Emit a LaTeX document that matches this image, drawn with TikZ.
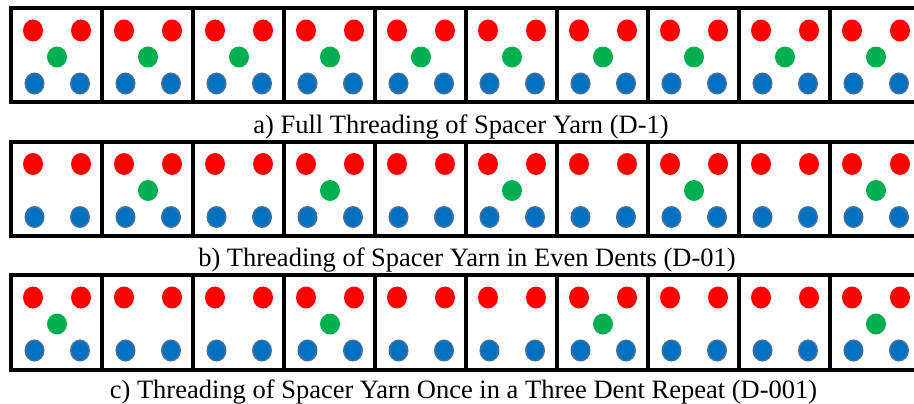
\documentclass[tikz,border=0pt]{standalone}
\usepackage{fontspec}
\setmainfont{Liberation Serif}
\definecolor{dotred}{HTML}{FF0000}
\definecolor{dotgreen}{HTML}{00B050}
\definecolor{dotblue}{HTML}{0070C0}
\definecolor{dotblueedge}{HTML}{41719C}
\begin{document}
\begin{tikzpicture}[x=1pt,y=-1pt,
  frame/.style={draw=black, line width=4pt},
  reddot/.style={fill=dotred},
  greendot/.style={fill=dotgreen},
  bluedot/.style={fill=dotblue, draw=dotblueedge, line width=1.6pt},
  caption/.style={anchor=base, inner sep=0pt, font=\fontsize{26.5}{30}\selectfont}]
\useasboundingbox (0,0) rectangle (914,404);
\begin{scope}
\clip (0,0) rectangle (914,404);
\foreach \t/\greens in {8/{1,2,3,4,5,6,7,8,9,10}, 141.5/{2,4,6,8,10}, 275/{1,4,7,10}}{
  \pgfmathsetmacro{\b}{\t+94.5}
  \foreach \k in {1,...,10}{
    \pgfmathsetmacro{\xl}{11+91*(\k-1)}
    \fill[reddot] (\xl+22,\t+22.5) ellipse [x radius=10pt, y radius=11pt];
    \fill[reddot] (\xl+70,\t+22.5) ellipse [x radius=10pt, y radius=11pt];
    \filldraw[bluedot] (\xl+23.5,\t+75.5) ellipse [x radius=9.2pt, y radius=10.2pt];
    \filldraw[bluedot] (\xl+69,\t+75.5) ellipse [x radius=9.2pt, y radius=10.2pt];
  }
  \foreach \k in \greens{
    \pgfmathsetmacro{\xl}{11+91*(\k-1)}
    \fill[greendot] (\xl+46,\t+49) ellipse [x radius=10pt, y radius=10.5pt];
  }
  \draw[frame] (11,\t) rectangle (921,\b);
  \foreach \k in {1,...,9}{
    \draw[frame] (11+91*\k,\t) -- (11+91*\k,\b);
  }
}
\end{scope}
\node[caption] (capa) at (461,133) {a) Full Threading of Spacer Yarn (D-1)};
\node[caption] (capb) at (467,266) {b) Threading of Spacer Yarn in Even Dents (D-01)};
\node[caption] (capc) at (463.5,398) {c) Threading of Spacer Yarn Once in a Three Dent Repeat (D-001)};
\end{tikzpicture}
\end{document}
